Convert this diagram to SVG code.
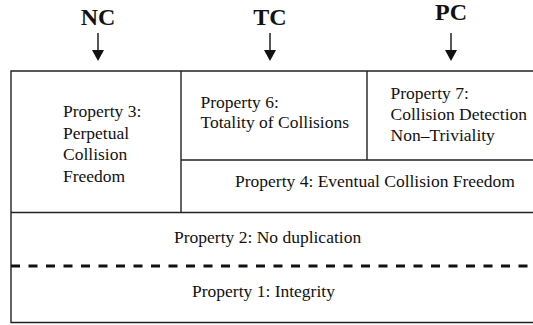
<svg xmlns="http://www.w3.org/2000/svg" width="533" height="325" viewBox="0 0 533 325">
<defs>
<style>
.t{font-family:"Liberation Serif","Times New Roman",serif;font-size:17.5px;fill:#111}
.h{font-family:"Liberation Serif","Times New Roman",serif;font-size:24px;font-weight:bold;fill:#111;text-anchor:middle}
.ln{stroke:#222;stroke-width:1.4;fill:none}
.dash{stroke:#111;stroke-width:3;stroke-dasharray:9 8.5;fill:none}
.ar{stroke:#111;stroke-width:1.4}
</style>
<marker id="ah" viewBox="0 0 12 11" refX="6" refY="11" markerWidth="12" markerHeight="11" markerUnits="userSpaceOnUse" orient="auto-start-reverse">
<path d="M0,0 L12,0 L6,11 Z" fill="#111"/>
</marker>
</defs>
<rect width="533" height="325" fill="#fff"/>
<g id="labels">
<text class="h" x="98" y="25">NC</text>
<text class="h" x="270" y="25">TC</text>
<text class="h" x="451" y="20">PC</text>
</g>
<g id="connectors">
<line class="ar" x1="98" y1="33" x2="98" y2="52"/>
<path d="M92,50 L104,50 L98,61 Z" fill="#111"/>
<line class="ar" x1="270" y1="33" x2="270" y2="52"/>
<path d="M264,50 L276,50 L270,61 Z" fill="#111"/>
<line class="ar" x1="451" y1="33" x2="451" y2="52"/>
<path d="M445,50 L457,50 L451,61 Z" fill="#111"/>
</g>
<g id="frame">
<path class="ln" d="M533,71 H11 V322.5 H533"/>
<line class="ln" x1="181" y1="71" x2="181" y2="212.5"/>
<line class="ln" x1="367" y1="71" x2="367" y2="160"/>
<line class="ln" x1="181" y1="160" x2="533" y2="160"/>
<line class="ln" x1="11" y1="212.5" x2="533" y2="212.5"/>
<line class="dash" x1="11" y1="266" x2="533" y2="266"/>
</g>
<g id="p3">
<text class="t" x="63" y="117">Property 3:</text>
<text class="t" x="63" y="138.6">Perpetual</text>
<text class="t" x="63" y="160.2">Collision</text>
<text class="t" x="63" y="181.8">Freedom</text>
</g>
<g id="p6">
<text class="t" x="200.5" y="108.3">Property 6:</text>
<text class="t" x="200.5" y="128.3">Totality of Collisions</text>
</g>
<g id="p7">
<text class="t" x="390.5" y="99">Property 7:</text>
<text class="t" x="390.5" y="119.8">Collision Detection</text>
<text class="t" x="390.5" y="140.5">Non–Triviality</text>
</g>
<g id="p4">
<text class="t" x="235" y="186.7">Property 4: Eventual Collision Freedom</text>
</g>
<g id="p2">
<text class="t" x="174" y="243">Property 2: No duplication</text>
</g>
<g id="p1">
<text class="t" x="192" y="296.7">Property 1: Integrity</text>
</g>
</svg>
